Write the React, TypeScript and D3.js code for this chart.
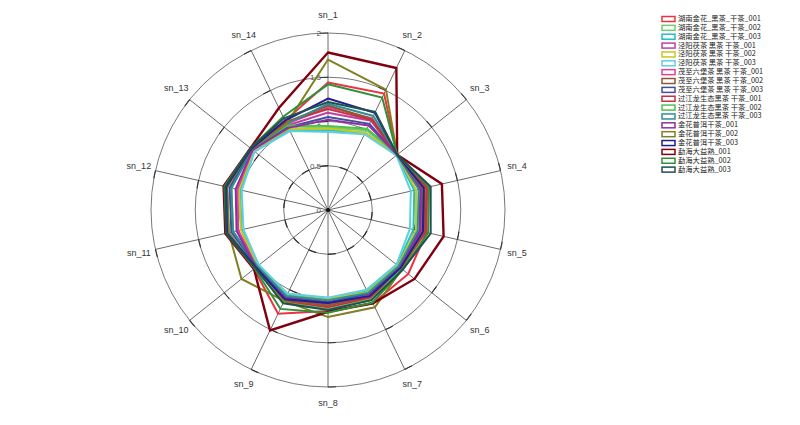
import React from "react";
import * as d3 from "d3";

const axes = ["sn_1","sn_2","sn_3","sn_4","sn_5","sn_6","sn_7","sn_8","sn_9","sn_10","sn_11","sn_12","sn_13","sn_14"];
const radialTicks = [0, 0.5, 1, 1.5, 2];
const seriesNames = [
  "湖南金花_黑茶_干茶_001","湖南金花_黑茶_干茶_002","湖南金花_黑茶_干茶_003",
  "泾阳茯茶 黑茶 干茶_001","泾阳茯茶 黑茶 干茶_002","泾阳茯茶 黑茶 干茶_003",
  "茂至六堡茶 黑茶 干茶_001","茂至六堡茶 黑茶 干茶_002","茂至六堡茶 黑茶 干茶_003",
  "过江龙生态黑茶 干茶_001","过江龙生态黑茶 干茶_002","过江龙生态黑茶 干茶_003",
  "金花普洱干茶_001","金花普洱干茶_002","金花普洱干茶_003",
  "勐海大益熟_001","勐海大益熟_002","勐海大益熟_003",
];
const seriesColors = [
  "#ee3040","#70cc70","#22c0c0",
  "#c040a0","#c8c820","#60d0e0",
  "#e040a0","#8c5a30","#4050a0",
  "#c83040","#50c050","#309090",
  "#9030a0","#808020","#202090",
  "#800010","#30903a","#205050",
];

const s01 = [1.44, 1.46, 1.0, 1.15, 1.14, 1.16, 1.17, 1.14, 1.30, 1.07, 1.16, 1.17, 1.12, 1.12];
const s02 = [0.93, 1.0, 1.0, 1.08, 1.07, 1.05, 1.12, 1.1, 1.14, 1.04, 1.1, 1.12, 1.1, 1.05];
const s03 = [0.90, 0.97, 0.99, 1.0, 0.99, 1.0, 1.02, 1.0, 1.06, 1.0, 1.0, 1.02, 1.07, 1.0];
const s04 = [1.1, 1.12, 1.0, 1.09, 1.08, 1.04, 1.06, 1.06, 1.1, 1.03, 1.04, 1.05, 1.08, 1.06];
const s05 = [0.92, 0.97, 1.0, 1.02, 1.02, 1.01, 1.03, 1.0, 1.05, 1.01, 1.01, 1.03, 1.08, 1.02];
const s06 = [0.88, 0.95, 0.99, 0.96, 0.95, 0.99, 1.0, 0.99, 1.05, 1.0, 0.98, 1.0, 1.06, 0.99];
const s07 = [1.16, 1.15, 1.0, 1.1, 1.09, 1.05, 1.07, 1.07, 1.12, 1.04, 1.05, 1.05, 1.09, 1.08];
const s08 = [1.18, 1.14, 1.0, 1.12, 1.12, 1.06, 1.09, 1.08, 1.13, 1.05, 1.15, 1.17, 1.11, 1.1];
const s09 = [1.05, 1.08, 1.0, 1.07, 1.06, 1.03, 1.05, 1.04, 1.09, 1.03, 1.12, 1.14, 1.1, 1.04];
const s10 = [1.14, 1.13, 1.0, 1.14, 1.13, 1.06, 1.1, 1.1, 1.15, 1.05, 1.18, 1.2, 1.12, 1.1];
const s11 = [0.95, 1.02, 1.0, 1.1, 1.1, 1.06, 1.13, 1.12, 1.16, 1.05, 1.16, 1.18, 1.11, 1.06];
const s12 = [1.2, 1.18, 1.0, 1.05, 1.04, 1.02, 1.04, 1.02, 1.08, 1.02, 1.1, 1.12, 1.09, 1.08];
const s13 = [1.02, 1.06, 1.0, 1.08, 1.07, 1.04, 1.08, 1.05, 1.11, 1.04, 1.06, 1.07, 1.09, 1.03];
const s14 = [1.70, 1.51, 1.0, 1.1, 1.1, 1.07, 1.22, 1.21, 1.14, 1.25, 1.15, 1.17, 1.11, 1.08];
const s15 = [1.26, 1.22, 1.0, 1.11, 1.1, 1.05, 1.08, 1.05, 1.12, 1.04, 1.17, 1.18, 1.11, 1.12];
const s16 = [1.78, 1.78, 1.0, 1.32, 1.34, 1.25, 1.17, 1.15, 1.51, 1.07, 1.19, 1.21, 1.12, 1.28];
const s17 = [1.42, 1.41, 1.0, 1.17, 1.16, 1.08, 1.16, 1.16, 1.24, 1.06, 1.18, 1.2, 1.12, 1.17];
const s18 = [1.22, 1.23, 1.0, 1.19, 1.19, 1.08, 1.13, 1.13, 1.17, 1.05, 1.18, 1.19, 1.12, 1.15];
const seriesValues = [s01,s02,s03,s04,s05,s06,s07,s08,s09,s10,s11,s12,s13,s14,s15,s16,s17,s18];

const W = 800, H = 425;
const cx = 328, cy = 210, R = 177;

export default function App() {
  const r = d3.scaleLinear().domain([0, 2]).range([0, R]);
  const ang = d3.scaleLinear().domain([0, axes.length]).range([0, 2 * Math.PI]);
  const pt = (a: number, rad: number) => [Math.sin(a) * rad, -Math.cos(a) * rad];
  const line = d3.lineRadial<number>()
    .angle((_, i) => ang(i))
    .radius((v) => r(v))
    .curve(d3.curveLinearClosed);
  const rings = radialTicks.filter((t) => t > 0);
  const font = "'Liberation Sans', Arial, sans-serif";
  const legX = 662, legY0 = 19, legStep = 8.86;

  return (
    <svg width={W} height={H} style={{ position: "absolute", left: 0, top: 0, background: "#fff" }}>
      <g transform={`translate(${cx},${cy})`}>
        {rings.map((t) => (
          <circle key={t} r={r(t)} fill="none" stroke="#555" strokeWidth={0.8} />
        ))}
        {axes.map((a, i) => {
          const [x, y] = pt(ang(i), R);
          return <line key={a} x1={0} y1={0} x2={x} y2={y} stroke="#444" strokeWidth={0.8} />;
        })}
        {rings.map((t) =>
          axes.map((a, i) => {
            const rad = r(t);
            const a1 = ang(i);
            const a0 = a1 - 8 / rad;
            const p = d3.path();
            p.arc(0, 0, rad, a0 - Math.PI / 2, a1 - Math.PI / 2);
            return <path key={`${t}-${a}`} d={p.toString()} fill="none" stroke="#333" strokeWidth={t === 0.5 ? 1.3 : 1.1} />;
          })
        )}
        <circle r={2} fill="#111" />
        {radialTicks.map((t) => (
          <text key={t} x={-7} y={-r(t) + 1} textAnchor="end" fontSize={8} fontFamily={font} fill="#555"
            dominantBaseline="middle">{t}</text>
        ))}
        {seriesValues.map((vals, si) => (
          <path key={si} d={line(vals) || ""} fill="none" stroke={seriesColors[si]}
            strokeWidth={si === 15 ? 2.4 : 2} strokeLinejoin="miter" />
        ))}
        {axes.map((a, i) => {
          const [x, y] = pt(ang(i), 194);
          return (
            <text key={a} x={x} y={y} textAnchor="middle" dominantBaseline="middle" fontSize={9}
              fontFamily={font} fill="#333">{a}</text>
          );
        })}
      </g>
      <g>
        {seriesNames.map((n, i) => (
          <g key={n} transform={`translate(${legX},${legY0 + i * legStep})`}>
            <rect x={0} y={-2.5} width={13} height={5} fill="#fff" stroke={seriesColors[i]} strokeWidth={1.5} />
            <text x={16} y={0} dominantBaseline="middle" fontSize={7.3}
              fontFamily="'Noto Sans CJK SC', sans-serif" fill="#222">{n}</text>
          </g>
        ))}
      </g>
    </svg>
  );
}
